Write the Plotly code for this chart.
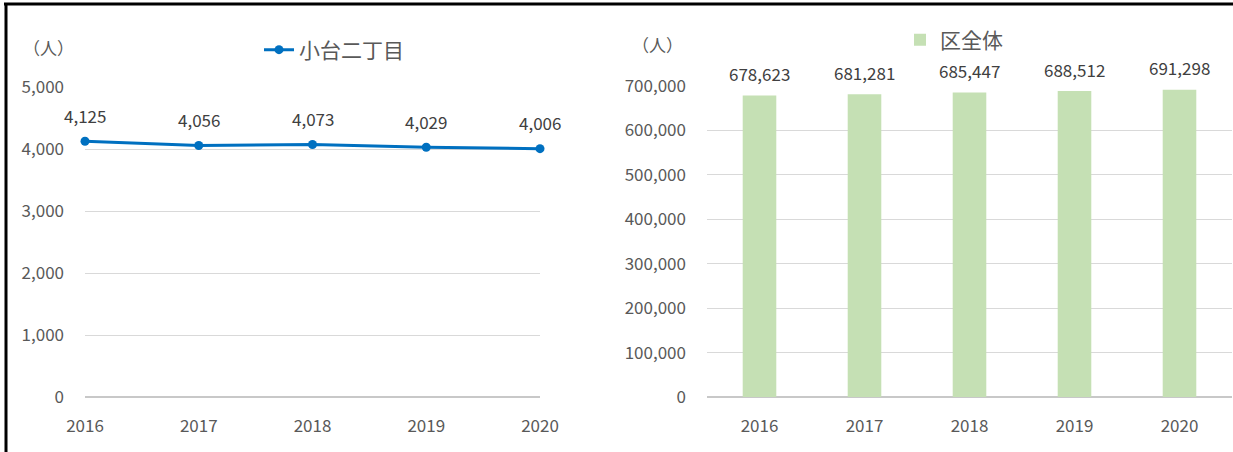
import plotly.graph_objects as go

years = [2016, 2017, 2018, 2019, 2020]
odai_values = [4125, 4056, 4073, 4029, 4006]
ward_values = [678623, 681281, 685447, 688512, 691298]
left_yticks = [0, 1000, 2000, 3000, 4000, 5000]
right_yticks = [0, 100000, 200000, 300000, 400000, 500000, 600000, 700000]
series_left = "小台二丁目"
series_right = "区全体"
unit_label = "（人）"

W, H = 1233, 452
FONT = "Noto Sans CJK JP"
TICK_COLOR = "#595959"
LABEL_COLOR = "#404040"
GRID = "#D9D9D9"

def px(x):
    return x / W

def py(y):
    return 1 - y / H

fig = go.Figure()

fig.add_trace(go.Scatter(
    x=years, y=odai_values, name=series_left, mode="lines+markers",
    line=dict(color="#0070C0", width=3), marker=dict(size=9, color="#0070C0"),
    cliponaxis=False, xaxis="x", yaxis="y", legend="legend", showlegend=True,
))
fig.add_trace(go.Bar(
    x=years, y=ward_values, name=series_right, marker=dict(color="#C5E0B4", line=dict(width=0)),
    width=0.32, xaxis="x2", yaxis="y2", legend="legend2", showlegend=True,
))

annotations = []
for xv, yv in zip(years, odai_values):
    annotations.append(dict(x=xv, y=yv, xref="x", yref="y", text=f"{yv:,}", showarrow=False,
                            yshift=26, font=dict(family=FONT, size=17, color=LABEL_COLOR)))
for xv, yv in zip(years, ward_values):
    annotations.append(dict(x=xv, y=yv, xref="x2", yref="y2", text=f"{yv:,}", showarrow=False,
                            yshift=22, font=dict(family=FONT, size=17, color=LABEL_COLOR)))
annotations.append(dict(x=px(48), y=py(48), xref="paper", yref="paper", text=unit_label, showarrow=False,
                        xanchor="center", yanchor="middle",
                        font=dict(family=FONT, size=17, color=TICK_COLOR)))
annotations.append(dict(x=px(657), y=py(44), xref="paper", yref="paper", text=unit_label, showarrow=False,
                        xanchor="center", yanchor="middle",
                        font=dict(family=FONT, size=17, color=TICK_COLOR)))

axis_common = dict(showline=False, ticks="", automargin=False,
                   tickfont=dict(family=FONT, size=17, color=TICK_COLOR))

fig.update_layout(
    width=W, height=H, margin=dict(l=0, r=0, t=0, b=0),
    paper_bgcolor="white", plot_bgcolor="white",
    showlegend=True,
    annotations=annotations,
    xaxis=dict(domain=[px(85), px(540)], range=[2016, 2020], tickvals=years, showgrid=False,
               zeroline=False, ticklabelstandoff=17, **axis_common),
    yaxis=dict(domain=[py(397), py(87)], range=[0, 5000], tickvals=left_yticks, tickformat=",",
               showgrid=True, gridcolor=GRID, gridwidth=1, zeroline=True, zerolinecolor="#C8C8C8",
               ticklabelstandoff=20, **axis_common),
    xaxis2=dict(domain=[px(707), px(1232)], range=[2015.5, 2020.5], tickvals=years, showgrid=False,
                zeroline=False, ticklabelstandoff=17, anchor="y2", **axis_common),
    yaxis2=dict(domain=[py(397), py(86)], range=[0, 700000], tickvals=right_yticks, tickformat=",",
                showgrid=True, gridcolor=GRID, gridwidth=1, zeroline=True, zerolinecolor="#C8C8C8",
                ticklabelstandoff=20, anchor="x2", **axis_common),
    legend=dict(x=px(334), y=py(50), xanchor="center", yanchor="middle", orientation="h",
                font=dict(family=FONT, size=21, color=TICK_COLOR), bgcolor="rgba(0,0,0,0)"),
    legend2=dict(x=px(954), y=py(40), xanchor="center", yanchor="middle", orientation="h",
                 font=dict(family=FONT, size=21, color=TICK_COLOR), bgcolor="rgba(0,0,0,0)"),
    shapes=[
        dict(type="line", xref="paper", yref="paper", x0=px(4), x1=1, y0=py(4), y1=py(4),
             line=dict(color="black", width=3)),
        dict(type="line", xref="paper", yref="paper", x0=px(6), x1=px(6), y0=0, y1=py(3),
             line=dict(color="black", width=3)),
    ],
)

fig.write_html("out.html", config={"displayModeBar": False},
               post_script="document.body.style.margin='0px';")
